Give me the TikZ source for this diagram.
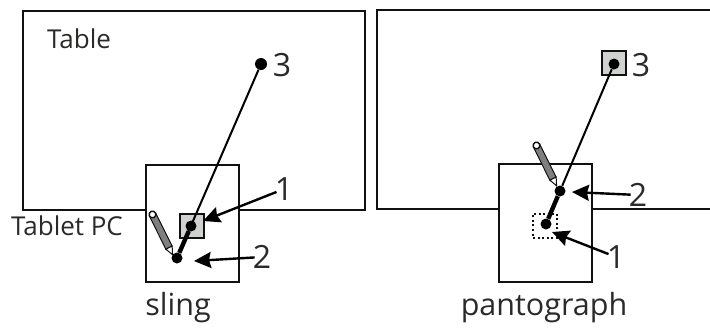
\documentclass[tikz,border=0pt]{standalone}
\usepackage{fontspec}
\setmainfont{Open Sans}
\usetikzlibrary{arrows.meta, positioning, calc}
\definecolor{inkline}{HTML}{111111}
\definecolor{inktext}{HTML}{2B2A29}
\definecolor{inkgrey}{HTML}{D0D2D0}
\definecolor{inkpen}{HTML}{7F7F7F}
\tikzset{
  board/.style={draw=inkline, line width=1.9pt, fill=white},
  pivot/.style={circle, fill=black, inner sep=0pt, minimum size=11pt},
  target/.style={draw=inkline, line width=1.9pt, fill=inkgrey, minimum size=24pt, inner sep=0pt},
  ghost/.style={draw=inkline, line width=2pt, dash pattern=on 2pt off 2.6pt, minimum size=24pt, inner sep=0pt},
  numlabel/.style={font=\fontsize{32}{32}\selectfont, text=inktext, inner sep=0pt},
  caption/.style={font=\fontsize{30.5}{30.5}\selectfont, text=inktext, inner sep=0pt},
  smalllabel/.style={font=\fontsize{26}{26}\selectfont, text=inktext, inner sep=0pt},
  thinarm/.style={draw=black, line width=2pt},
  thickarm/.style={draw=black, line width=4.4pt},
  callout/.style={-{Stealth[length=17pt, width=16pt, inset=2pt]}, draw=black, line width=2.4pt, shorten <=-2pt}
}
\newcommand{\penicon}[2]{%
  \begin{scope}[shift={(#1,#2)}, rotate=-63.5]
    \draw[draw=inkline, line width=1pt, fill=inkpen] (0,-3.5) rectangle (37,3.5);
    \draw[draw=inkline, line width=1pt, fill=white] (37,-3.5) -- (45,0) -- (37,3.5) -- cycle;
    \draw[draw=inkline, line width=1.4pt, fill=white] (0,0) circle (3.4);
  \end{scope}}

\begin{document}
\begin{tikzpicture}[x=1pt, y=-1pt]
  \useasboundingbox (0,0) rectangle (710,327);
  % sling
  \draw[board] (23,11) rectangle (365,210);
  \node[draw=inkline, line width=1.9pt, fill=white, minimum width=93pt, minimum height=117pt, inner sep=0pt] (tablet1) at (192.5,223.5) {};
  \node[target] (square1) at (192,226) {};
  \node[pivot] (s1) at (191,226) {};
  \node[pivot] (s2) at (177,258) {};
  \node[pivot, minimum size=12pt] (s3) at (261,64) {};
  \draw[thinarm] (s2) -- (s3);
  \draw[thickarm] (s2) -- (s1);
  \penicon{152.5}{214.5}
  \node[smalllabel, anchor=west] (table) at (47,39) {Table};
  \node[smalllabel] (tabletlabel) at (67,226) {Tablet PC};
  \node[numlabel] (n1) at (284,189) {1};
  \node[numlabel] (n2) at (262,257) {2};
  \node[numlabel] (n3) at (282,65) {3};
  \draw[callout] (n1) -- (203,221);
  \draw[callout] (n2) -- (194,261);
  \node[caption] (sling) at (178,308) {sling};
  % pantograph
  \draw[board] (712,10) -- (377,10) -- (377,209) -- (712,209);
  \node[draw=inkline, line width=1.9pt, fill=white, minimum width=93pt, minimum height=118pt, inner sep=0pt] (tablet2) at (545.5,223) {};
  \node[ghost] (square2) at (545,225.5) {};
  \node[target] (square3) at (614,63) {};
  \node[pivot] (p1) at (546,224) {};
  \node[pivot] (p2) at (560,191) {};
  \node[pivot] (p3) at (614,64) {};
  \draw[thinarm] (p2) -- (p3);
  \draw[thickarm] (p2) -- (p1);
  \penicon{536.5}{145.5}
  \node[numlabel] (m1) at (616,257) {1};
  \node[numlabel] (m2) at (638,195) {2};
  \node[numlabel] (m3) at (641,65) {3};
  \draw[callout] (m2) -- (572,192);
  \draw[callout] (m1) -- (552,232);
  \node[caption] (panto) at (544,308) {pantograph};
\end{tikzpicture}
\end{document}
